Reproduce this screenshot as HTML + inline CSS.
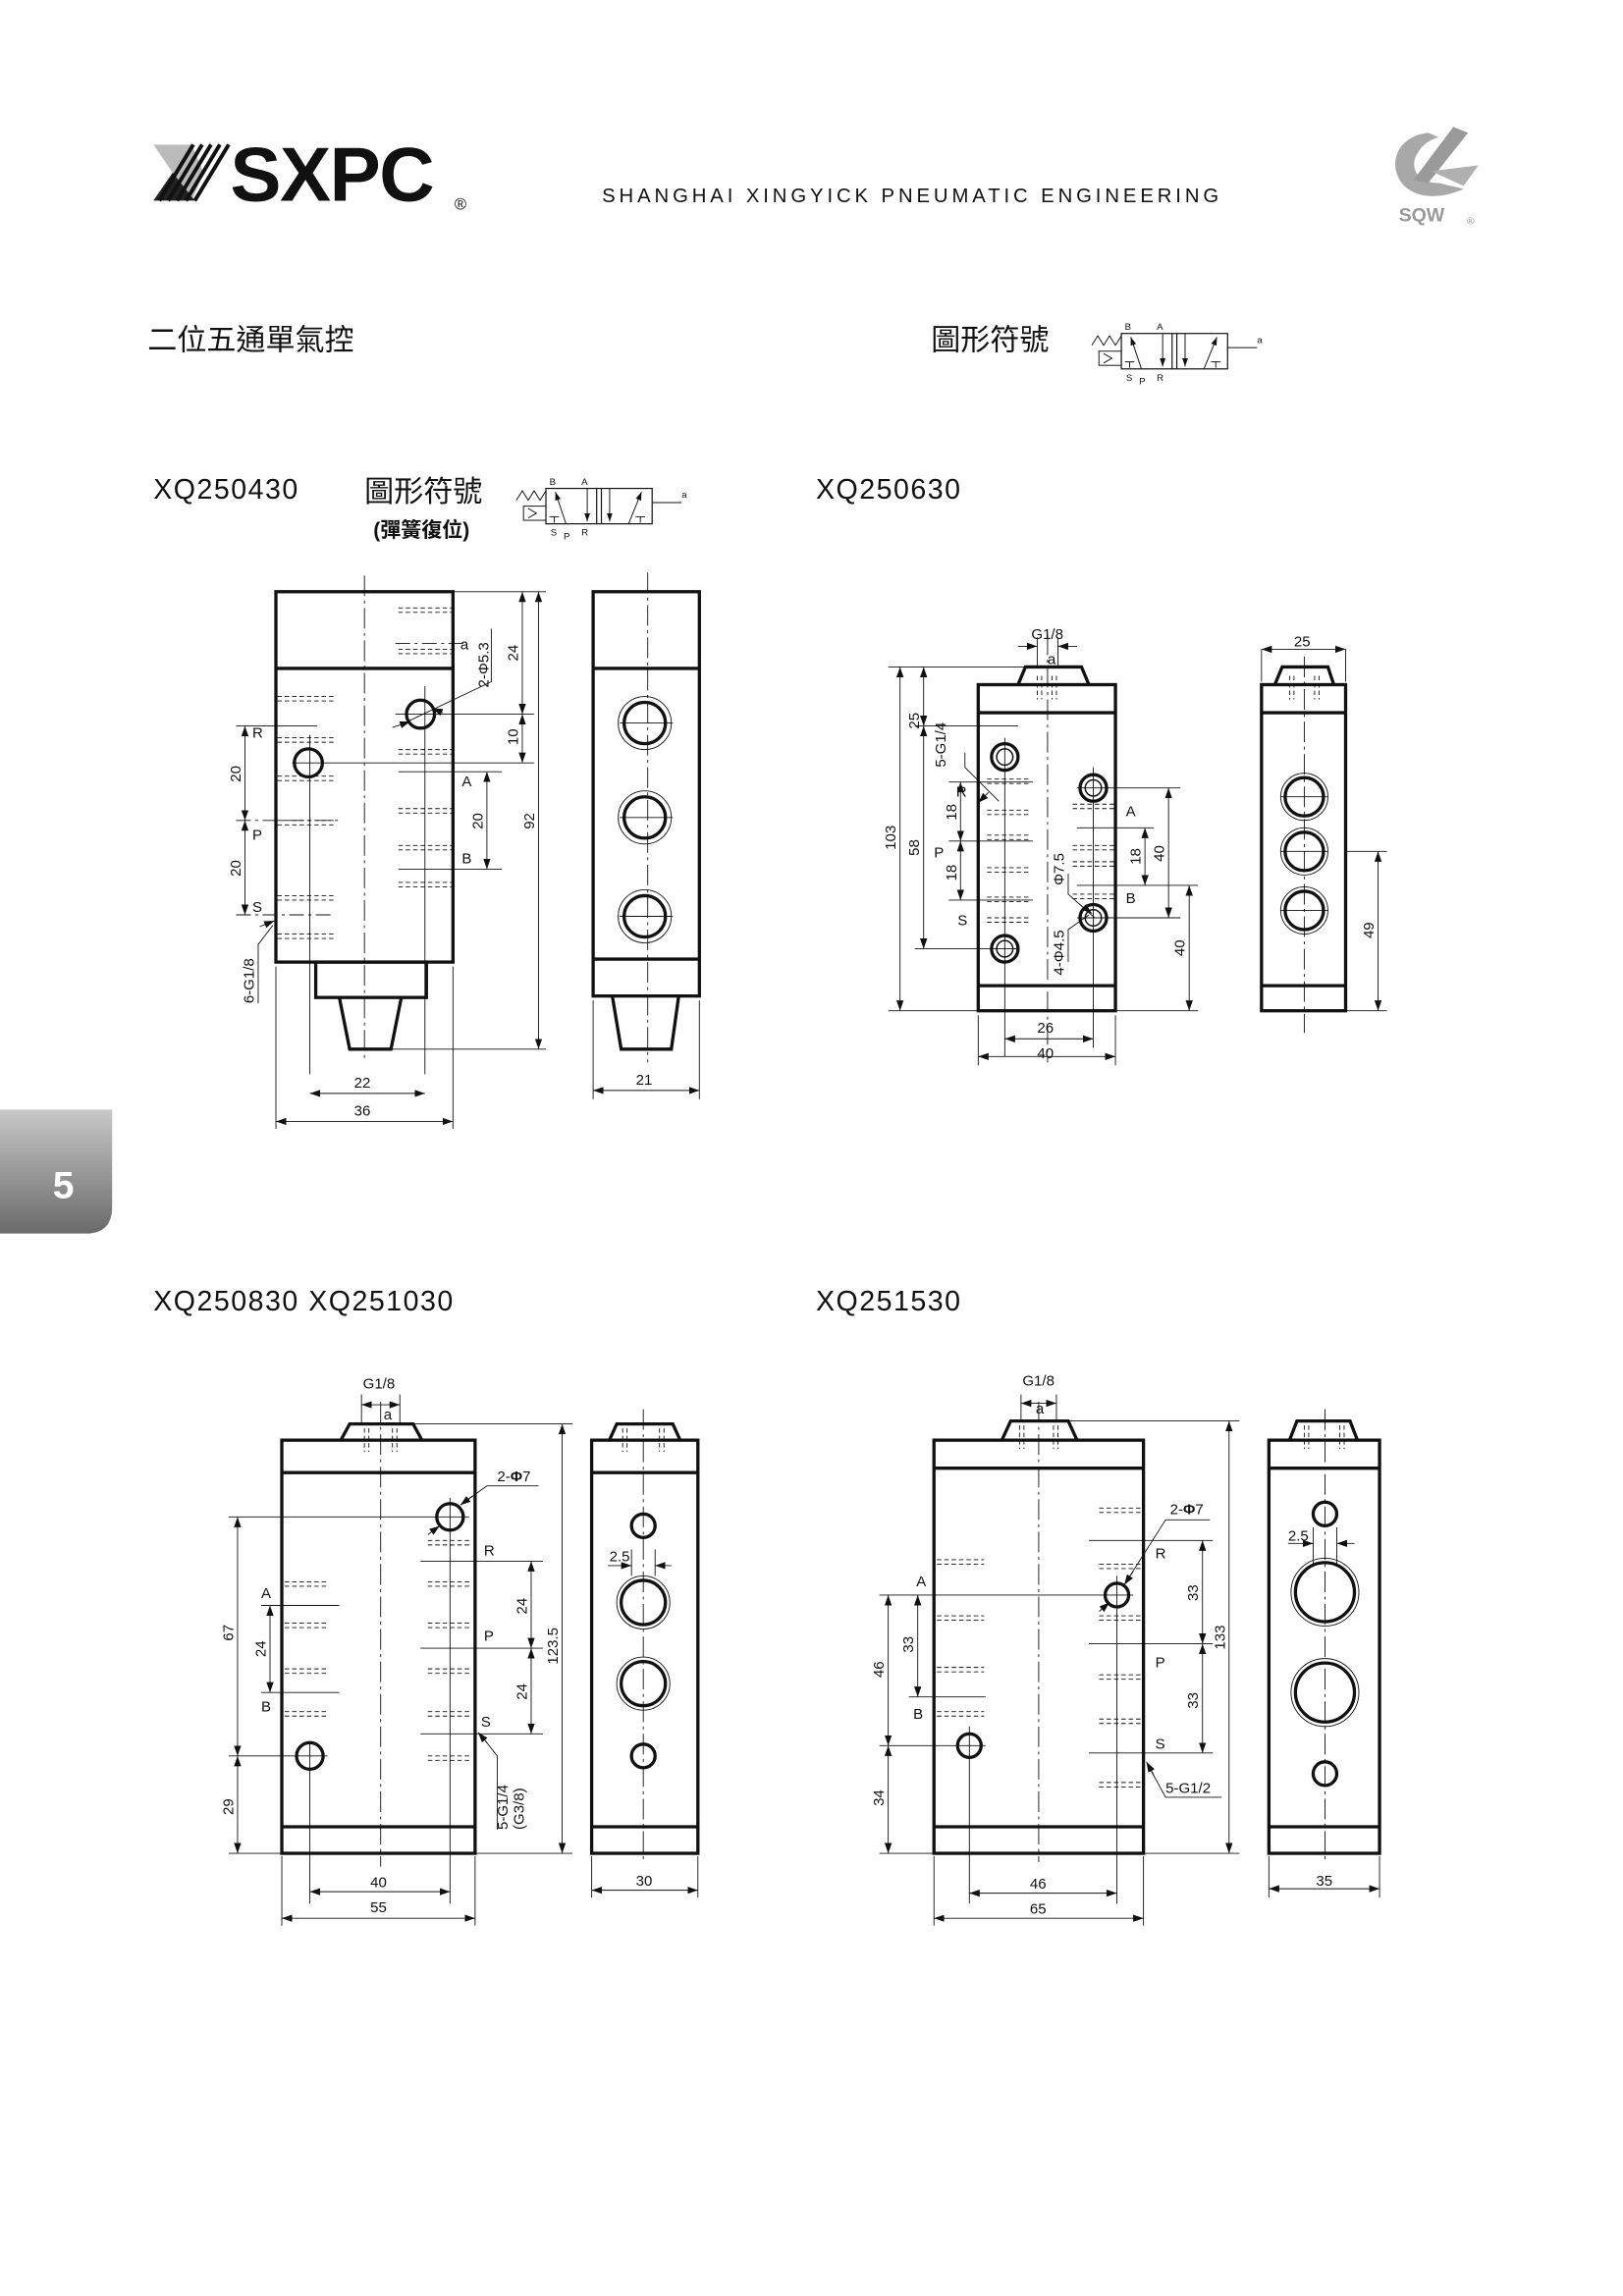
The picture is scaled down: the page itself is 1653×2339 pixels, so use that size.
<!DOCTYPE html>
<html><head><meta charset="utf-8"><style>
html,body{margin:0;padding:0;background:#fff}
svg{display:block}
text{font-family:"Liberation Sans","Noto Sans CJK TC",sans-serif;fill:#111}
</style></head><body>
<svg width="1653" height="2339" viewBox="0 0 1100 1556" preserveAspectRatio="none" xmlns="http://www.w3.org/2000/svg">
<defs>
<marker id="ar" viewBox="0 0 10 10" refX="10" refY="5" markerWidth="7" markerHeight="7" orient="auto-start-reverse" markerUnits="userSpaceOnUse"><path d="M0,1.5 L10,5 L0,8.5 z" fill="#111"/></marker>
<linearGradient id="tab" x1="0" y1="0" x2="0" y2="1"><stop offset="0" stop-color="#c8c8c8"/><stop offset="1" stop-color="#6a6a6a"/></linearGradient>
<g id="sym">
<rect x="25" y="10" width="90" height="30" fill="none" stroke="#111" stroke-width="1"/>
<line x1="68" y1="10" x2="68" y2="40" stroke="#111" stroke-width="1"/>
<line x1="72" y1="10" x2="72" y2="40" stroke="#111" stroke-width="1"/>
<polyline points="0,20 5,12 10,20 15,12 20,20 25,12" fill="none" stroke="#111" stroke-width="0.8"/>
<rect x="6" y="25" width="19" height="12" fill="none" stroke="#111" stroke-width="0.8"/>
<polyline points="10,27 17,31 10,35" fill="none" stroke="#111" stroke-width="0.8"/>
<line x1="42" y1="40" x2="33" y2="13" stroke="#111" stroke-width="0.8" marker-end="url(#ar)"/>
<line x1="60" y1="10" x2="60" y2="38" stroke="#111" stroke-width="0.8" marker-end="url(#ar)"/>
<line x1="79" y1="10" x2="79" y2="38" stroke="#111" stroke-width="0.8" marker-end="url(#ar)"/>
<line x1="95" y1="40" x2="106" y2="13" stroke="#111" stroke-width="0.8" marker-end="url(#ar)"/>
<path d="M28,34 h8 M32,34 v5 M101,34 h8 M105,34 v5" stroke="#111" stroke-width="0.8"/>
<line x1="115" y1="22" x2="140" y2="22" stroke="#111" stroke-width="0.8"/>
<text x="28" y="7" font-size="8">B</text><text x="55" y="7" font-size="8">A</text>
<text x="29" y="50" font-size="8">S</text><text x="40" y="53" font-size="8">P</text><text x="55" y="50" font-size="8">R</text>
<text x="140" y="18" font-size="8">a</text>
</g>
</defs>

<g>
<polygon points="104,98 130,98 138,117 130,136 104,136 117,117" fill="#bbb"/>
<polygon points="117,117 104,136 132,136" fill="#222"/>
<g stroke="#111" stroke-width="2.6"><line x1="108" y1="136" x2="131" y2="98"/><line x1="114" y1="136" x2="137" y2="98"/><line x1="120" y1="136" x2="143" y2="98"/><line x1="126" y1="136" x2="149" y2="98"/><line x1="132" y1="136" x2="155" y2="98"/></g>
<text x="156" y="136" font-size="52" font-weight="bold" style="letter-spacing:-1px">SXPC</text>
<text x="308" y="142" font-size="11">®</text>
<text x="408" y="137" font-size="13.5" style="letter-spacing:2.6px">SHANGHAI XINGYICK PNEUMATIC ENGINEERING</text>
<path d="M968,90 C948,92 940,110 950,124 C958,134 975,136 992,128 L975,124 C960,124 954,112 962,102 C966,96 972,94 975,93 Z" fill="#a8a8a8"/>
<path d="M985,86 L958,122 L968,124 L995,90 Z" fill="#9a9a9a"/>
<path d="M970,116 L1002,112 L992,126 Z" fill="#b0b0b0"/>
<text x="948" y="150" font-size="13" font-weight="bold" style="fill:#999">SQW</text>
<text x="994" y="152" font-size="7" style="fill:#999">®</text>
</g>

<path d="M0,752 H76 V818 Q76,836 58,836 H0 Z" fill="url(#tab)"/>
<text x="43" y="812" font-size="26" font-weight="bold" text-anchor="middle" style="fill:#fff">5</text>

<text x="100" y="237" font-size="20">二位五通單氣控</text>
<text x="631" y="237" font-size="20">圖形符號</text>
<use href="#sym" transform="translate(740,218) scale(0.8)"/>
<text x="104" y="338" font-size="19" style="letter-spacing:1px">XQ250430</text>
<text x="247" y="340" font-size="20">圖形符號</text>
<text x="253" y="364" font-size="14" font-weight="bold">(彈簧復位)</text>
<use href="#sym" transform="translate(350,323) scale(0.8)"/>
<text x="553" y="338" font-size="19" style="letter-spacing:1px">XQ250630</text>
<text x="104" y="888" font-size="19" style="letter-spacing:1px">XQ250830  XQ251030</text>
<text x="553" y="888" font-size="19" style="letter-spacing:1px">XQ251530</text>

<g fill="none" stroke="#111">
<g stroke-width="2.2">
<rect x="187" y="401" width="120" height="251"/>
<line x1="187" y1="453" x2="307" y2="453"/>
<rect x="214" y="652" width="75" height="24"/>
<polyline points="230,676 237,711 265,711 272,676"/>
<circle cx="285" cy="484" r="9.5"/><circle cx="209" cy="517" r="9.5"/>
<rect x="402" y="401" width="72" height="274"/>
<line x1="402" y1="453" x2="474" y2="453"/><line x1="402" y1="650" x2="474" y2="650"/>
<polyline points="415,675 421,711 455,711 460,675"/>
<circle cx="437" cy="490" r="14"/><circle cx="437" cy="554" r="14"/><circle cx="437" cy="621" r="14"/>
</g>
<g stroke-width="0.6">
<circle cx="437" cy="490" r="18"/><circle cx="437" cy="554" r="18"/><circle cx="437" cy="621" r="18"/>
<line x1="247" y1="390" x2="247" y2="720" stroke-dasharray="14,3,2,3"/>
<line x1="439" y1="388" x2="439" y2="720" stroke-dasharray="14,3,2,3"/>
<line x1="420" y1="490" x2="456" y2="490"/><line x1="420" y1="554" x2="456" y2="554"/><line x1="420" y1="621" x2="456" y2="621"/>
<line x1="210" y1="728" x2="210" y2="498"/><line x1="288" y1="728" x2="288" y2="465"/>
<line x1="187" y1="655" x2="187" y2="765"/><line x1="307" y1="655" x2="307" y2="765"/>
<line x1="210" y1="741" x2="288" y2="741" marker-start="url(#ar)" marker-end="url(#ar)"/>
<line x1="187" y1="760" x2="307" y2="760" marker-start="url(#ar)" marker-end="url(#ar)"/>
<line x1="402" y1="678" x2="402" y2="745"/><line x1="474" y1="678" x2="474" y2="745"/>
<line x1="402" y1="739" x2="474" y2="739" marker-start="url(#ar)" marker-end="url(#ar)"/>
<line x1="307" y1="401" x2="370" y2="401"/><line x1="268" y1="484" x2="362" y2="484"/><line x1="198" y1="517" x2="362" y2="517"/><line x1="265" y1="711" x2="370" y2="711"/>
<line x1="354" y1="401" x2="354" y2="484" marker-start="url(#ar)" marker-end="url(#ar)"/>
<line x1="354" y1="484" x2="354" y2="517" marker-start="url(#ar)" marker-end="url(#ar)"/>
<line x1="365" y1="401" x2="365" y2="711" marker-start="url(#ar)" marker-end="url(#ar)"/>
<line x1="270" y1="523" x2="340" y2="523"/><line x1="270" y1="589" x2="340" y2="589"/>
<line x1="330" y1="523" x2="330" y2="589" marker-start="url(#ar)" marker-end="url(#ar)"/>
<line x1="160" y1="492" x2="215" y2="492"/><line x1="160" y1="556" x2="230" y2="556" stroke-dasharray="10,3,2,3"/><line x1="160" y1="620" x2="225" y2="620" stroke-dasharray="10,3,2,3"/>
<line x1="166" y1="492" x2="166" y2="556" marker-start="url(#ar)" marker-end="url(#ar)"/>
<line x1="166" y1="556" x2="166" y2="620" marker-start="url(#ar)" marker-end="url(#ar)"/>
<line x1="268" y1="436" x2="315" y2="436" stroke-dasharray="10,3,2,3"/>
<polyline points="175,680 175,640 185,627" /><line x1="176" y1="628" x2="186" y2="624" marker-end="url(#ar)"/>
<polyline points="333,426 333,462 272,491" /><line x1="300" y1="483" x2="293" y2="480" marker-end="url(#ar)"/>
<line x1="266" y1="493" x2="278" y2="489" marker-end="url(#ar)"/>
</g>
<g stroke-width="0.6" stroke-dasharray="3,2">
<path d="M270,412h37M270,415h37M270,440h37M270,443h37M188,472h40M188,475h40M188,500h40M188,503h40M188,526h40M188,529h40M188,556h40M188,559h40M188,607h40M188,610h40M188,633h40M188,636h40M270,508h37M270,511h37M270,548h37M270,551h37M270,573h37M270,576h37M270,598h37M270,601h37"/>
</g>
</g>
<g font-size="10">
<text x="312" y="440">a</text><text x="171" y="500">R</text><text x="171" y="569">P</text><text x="171" y="618">S</text>
<text x="313" y="533">A</text><text x="313" y="585">B</text>
<text x="240" y="737">22</text><text x="240" y="756">36</text><text x="431" y="735">21</text>
<text transform="translate(351,448) rotate(-90)">24</text>
<text transform="translate(351,505) rotate(-90)">10</text>
<text transform="translate(362,562) rotate(-90)">92</text>
<text transform="translate(327,562) rotate(-90)">20</text>
<text transform="translate(163,530) rotate(-90)">20</text>
<text transform="translate(163,594) rotate(-90)">20</text>
<text transform="translate(331,466) rotate(-90)">2-Φ5.3</text>
<text transform="translate(172,680) rotate(-90)">6-G1/8</text>
</g>

<g fill="none" stroke="#111">
<g stroke-width="2.2">
<rect x="663" y="464" width="93" height="221"/>
<line x1="663" y1="483" x2="756" y2="483"/><line x1="663" y1="668" x2="756" y2="668"/>
<polyline points="690,464 695,452 733,452 738,464"/>
<circle cx="681" cy="513" r="9"/><circle cx="741" cy="534" r="9"/><circle cx="741" cy="622" r="9"/><circle cx="681" cy="643" r="9"/>
<rect x="855" y="464" width="57" height="221"/>
<line x1="855" y1="483" x2="912" y2="483"/><line x1="855" y1="668" x2="912" y2="668"/>
<polyline points="864,464 869,452 900,452 904,464"/>
<circle cx="884" cy="540" r="13"/><circle cx="884" cy="577" r="13"/><circle cx="884" cy="617" r="13"/>
</g>
<g stroke-width="1">
<circle cx="681" cy="513" r="5.5"/><circle cx="741" cy="534" r="5.5"/><circle cx="741" cy="622" r="5.5"/><circle cx="681" cy="643" r="5.5"/>
</g>
<g stroke-width="0.6">
<circle cx="884" cy="540" r="16"/><circle cx="884" cy="577" r="16"/><circle cx="884" cy="617" r="16"/>
<line x1="710" y1="430" x2="710" y2="720" stroke-dasharray="14,3,2,3"/>
<line x1="884" y1="445" x2="884" y2="700" stroke-dasharray="14,3,2,3"/>
<line x1="868" y1="540" x2="900" y2="540"/><line x1="868" y1="577" x2="900" y2="577"/><line x1="868" y1="617" x2="900" y2="617"/>
<line x1="681" y1="500" x2="681" y2="716"/><line x1="741" y1="520" x2="741" y2="710"/>
<line x1="663" y1="688" x2="663" y2="722"/><line x1="756" y1="688" x2="756" y2="722"/>
<line x1="681" y1="704" x2="741" y2="704" marker-start="url(#ar)" marker-end="url(#ar)"/>
<line x1="663" y1="716" x2="756" y2="716" marker-start="url(#ar)" marker-end="url(#ar)"/>
<line x1="602" y1="452" x2="695" y2="452"/><line x1="602" y1="685" x2="663" y2="685"/>
<line x1="610" y1="452" x2="610" y2="685" marker-start="url(#ar)" marker-end="url(#ar)"/>
<line x1="620" y1="492" x2="690" y2="492"/><line x1="620" y1="643" x2="690" y2="643"/>
<line x1="626" y1="452" x2="626" y2="492" marker-start="url(#ar)" marker-end="url(#ar)"/>
<line x1="626" y1="492" x2="626" y2="643" marker-start="url(#ar)" marker-end="url(#ar)"/>
<line x1="643" y1="530" x2="700" y2="530"/><line x1="643" y1="570" x2="700" y2="570"/><line x1="643" y1="610" x2="700" y2="610"/>
<line x1="651" y1="530" x2="651" y2="570" marker-start="url(#ar)" marker-end="url(#ar)"/>
<line x1="651" y1="570" x2="651" y2="610" marker-start="url(#ar)" marker-end="url(#ar)"/>
<line x1="730" y1="534" x2="800" y2="534"/><line x1="730" y1="561" x2="782" y2="561"/><line x1="730" y1="600" x2="812" y2="600"/><line x1="730" y1="622" x2="800" y2="622"/><line x1="756" y1="685" x2="812" y2="685"/>
<line x1="776" y1="561" x2="776" y2="600" marker-start="url(#ar)" marker-end="url(#ar)"/>
<line x1="792" y1="534" x2="792" y2="622" marker-start="url(#ar)" marker-end="url(#ar)"/>
<line x1="806" y1="600" x2="806" y2="685" marker-start="url(#ar)" marker-end="url(#ar)"/>
<line x1="912" y1="577" x2="940" y2="577"/><line x1="912" y1="685" x2="940" y2="685"/>
<line x1="934" y1="577" x2="934" y2="685" marker-start="url(#ar)" marker-end="url(#ar)"/>
<line x1="855" y1="440" x2="855" y2="462"/><line x1="912" y1="440" x2="912" y2="462"/>
<line x1="855" y1="440" x2="912" y2="440" marker-start="url(#ar)" marker-end="url(#ar)"/>
<line x1="703" y1="432" x2="703" y2="452"/><line x1="717" y1="432" x2="717" y2="452"/>
<line x1="690" y1="438" x2="703" y2="438" marker-end="url(#ar)"/><line x1="730" y1="438" x2="717" y2="438" marker-end="url(#ar)"/>
<polyline points="654,510 654,520 677,543" /><line x1="670" y1="537" x2="663" y2="544" marker-end="url(#ar)"/>
<polyline points="724,592 724,606 742,622"/><line x1="735" y1="615" x2="740" y2="619" marker-end="url(#ar)"/>
<polyline points="724,652 724,630 738,620"/>
</g>
<g stroke-width="0.6" stroke-dasharray="3,2">
<path d="M669,528h29M669,531h29M669,549h29M669,552h29M669,566h29M669,569h29M669,588h29M669,591h29M669,608h29M669,611h29M669,622h29M669,625h29M727,545h29M727,548h29M727,573h29M727,576h29M727,584h29M727,587h29M727,606h29M727,609h29"/>
<path d="M703,458v16M706,458v16M713,458v16M716,458v16M874,458v16M877,458v16M891,458v16M894,458v16"/>
</g>
</g>
<g font-size="10">
<text x="699" y="433">G1/8</text><text x="710" y="450">a</text><text x="877" y="438">25</text>
<text x="648" y="540">R</text><text x="633" y="581">P</text><text x="649" y="627">S</text>
<text x="763" y="553">A</text><text x="763" y="612">B</text>
<text x="703" y="700">26</text><text x="703" y="717">40</text>
<text transform="translate(607,576) rotate(-90)">103</text>
<text transform="translate(623,494) rotate(-90)">25</text>
<text transform="translate(623,580) rotate(-90)">58</text>
<text transform="translate(648,556) rotate(-90)">18</text>
<text transform="translate(648,597) rotate(-90)">18</text>
<text transform="translate(773,586) rotate(-90)">18</text>
<text transform="translate(789,584) rotate(-90)">40</text>
<text transform="translate(803,648) rotate(-90)">40</text>
<text transform="translate(931,636) rotate(-90)">49</text>
<text transform="translate(641,520) rotate(-90)">5-G1/4</text>
<text transform="translate(721,600) rotate(-90)">Φ7.5</text>
<text transform="translate(721,661) rotate(-90)">4-Φ4.5</text>
</g>

<g fill="none" stroke="#111">
<g stroke-width="2.2">
<rect x="191" y="976" width="131" height="280"/>
<line x1="191" y1="998" x2="322" y2="998"/><line x1="191" y1="1238" x2="322" y2="1238"/>
<polyline points="231,976 237,965 280,965 286,976"/>
<circle cx="305" cy="1028" r="9"/><circle cx="210" cy="1190" r="9"/>
<rect x="401" y="976" width="72" height="280"/>
<line x1="401" y1="998" x2="473" y2="998"/><line x1="401" y1="1238" x2="473" y2="1238"/>
<polyline points="413,976 418,965 456,965 461,976"/>
<circle cx="436" cy="1034" r="8"/><circle cx="436" cy="1086" r="15"/><circle cx="436" cy="1141" r="15"/><circle cx="436" cy="1190" r="8"/>
</g>
<g stroke-width="0.6">
<circle cx="436" cy="1086" r="18"/><circle cx="436" cy="1141" r="18"/>
<line x1="258" y1="950" x2="258" y2="1265" stroke-dasharray="14,3,2,3"/>
<line x1="436" y1="955" x2="436" y2="1262" stroke-dasharray="14,3,2,3"/>
<line x1="210" y1="1180" x2="210" y2="1290"/><line x1="305" y1="1015" x2="305" y2="1290"/>
<line x1="191" y1="1258" x2="191" y2="1305"/><line x1="322" y1="1258" x2="322" y2="1305"/>
<line x1="210" y1="1282" x2="305" y2="1282" marker-start="url(#ar)" marker-end="url(#ar)"/>
<line x1="191" y1="1300" x2="322" y2="1300" marker-start="url(#ar)" marker-end="url(#ar)"/>
<line x1="401" y1="1258" x2="401" y2="1286"/><line x1="473" y1="1258" x2="473" y2="1286"/>
<line x1="401" y1="1281" x2="473" y2="1281" marker-start="url(#ar)" marker-end="url(#ar)"/>
<line x1="155" y1="1028" x2="318" y2="1028"/><line x1="155" y1="1190" x2="222" y2="1190"/><line x1="155" y1="1256" x2="191" y2="1256"/>
<line x1="161" y1="1028" x2="161" y2="1190" marker-start="url(#ar)" marker-end="url(#ar)"/>
<line x1="161" y1="1190" x2="161" y2="1256" marker-start="url(#ar)" marker-end="url(#ar)"/>
<line x1="177" y1="1088" x2="230" y2="1088"/><line x1="177" y1="1147" x2="230" y2="1147"/>
<line x1="183" y1="1088" x2="183" y2="1147" marker-start="url(#ar)" marker-end="url(#ar)"/>
<line x1="285" y1="1058" x2="368" y2="1058"/><line x1="285" y1="1117" x2="368" y2="1117"/><line x1="285" y1="1175" x2="368" y2="1175"/>
<line x1="360" y1="1058" x2="360" y2="1117" marker-start="url(#ar)" marker-end="url(#ar)"/>
<line x1="360" y1="1117" x2="360" y2="1175" marker-start="url(#ar)" marker-end="url(#ar)"/>
<line x1="280" y1="965" x2="388" y2="965"/><line x1="322" y1="1256" x2="388" y2="1256"/>
<line x1="381" y1="965" x2="381" y2="1256" marker-start="url(#ar)" marker-end="url(#ar)"/>
<line x1="245" y1="945" x2="245" y2="965"/><line x1="271" y1="945" x2="271" y2="965"/>
<line x1="245" y1="952" x2="271" y2="952" marker-start="url(#ar)" marker-end="url(#ar)"/>
<polyline points="365,1007 330,1007 312,1020"/><line x1="320" y1="1014" x2="312" y2="1020" marker-end="url(#ar)"/>
<line x1="290" y1="1040" x2="298" y2="1034" marker-end="url(#ar)"/>
<line x1="412" y1="1061" x2="428" y2="1061" marker-end="url(#ar)"/><line x1="455" y1="1061" x2="444" y2="1061" marker-end="url(#ar)"/>
<line x1="428" y1="1050" x2="428" y2="1068"/><line x1="444" y1="1050" x2="444" y2="1068"/>
<polyline points="337,1240 337,1190 326,1176"/><line x1="330" y1="1181" x2="324" y2="1174" marker-end="url(#ar)"/>
</g>
<g stroke-width="0.6" stroke-dasharray="3,2">
<path d="M193,1072h30M193,1075h30M193,1100h30M193,1103h30M193,1131h30M193,1134h30M193,1160h30M193,1163h30M290,1044h30M290,1047h30M290,1072h30M290,1075h30M290,1100h30M290,1103h30M290,1131h30M290,1134h30M290,1160h30M290,1163h30M290,1190h30M290,1193h30"/>
<path d="M247,968v16M250,968v16M266,968v16M269,968v16M422,968v16M425,968v16M447,968v16M450,968v16"/>
</g>
</g>
<g font-size="10">
<text x="246" y="941">G1/8</text><text x="260" y="962">a</text>
<text x="337" y="1004">2-<tspan font-weight="bold">Φ</tspan>7</text>
<text x="413" y="1058">2.5</text>
<text x="328" y="1054">R</text><text x="328" y="1112">P</text><text x="326" y="1170">S</text>
<text x="177" y="1083">A</text><text x="177" y="1160">B</text>
<text x="251" y="1279">40</text><text x="251" y="1296">55</text><text x="431" y="1278">30</text>
<text transform="translate(158,1112) rotate(-90)">67</text>
<text transform="translate(158,1230) rotate(-90)">29</text>
<text transform="translate(180,1123) rotate(-90)">24</text>
<text transform="translate(357,1094) rotate(-90)">24</text>
<text transform="translate(357,1152) rotate(-90)">24</text>
<text transform="translate(378,1128) rotate(-90)">123.5</text>
<text transform="translate(344,1240) rotate(-90)">5-G1/4</text>
<text transform="translate(355,1240) rotate(-90)">(G3/8)</text>
</g>

<g fill="none" stroke="#111">
<g stroke-width="2.2">
<rect x="633" y="976" width="142" height="280"/>
<line x1="633" y1="995" x2="775" y2="995"/><line x1="633" y1="1238" x2="775" y2="1238"/>
<polyline points="679,976 685,963 724,963 730,976"/>
<circle cx="757" cy="1081" r="8"/><circle cx="657" cy="1183" r="8"/>
<rect x="860" y="976" width="75" height="280"/>
<line x1="860" y1="995" x2="935" y2="995"/><line x1="860" y1="1238" x2="935" y2="1238"/>
<polyline points="874,976 879,963 915,963 920,976"/>
<circle cx="898" cy="1026" r="8"/><circle cx="898" cy="1079" r="20"/><circle cx="898" cy="1147" r="20"/><circle cx="898" cy="1202" r="8"/>
</g>
<g stroke-width="0.6">
<circle cx="898" cy="1079" r="23"/><circle cx="898" cy="1147" r="23"/>
<line x1="704" y1="950" x2="704" y2="1262" stroke-dasharray="14,3,2,3"/>
<line x1="898" y1="955" x2="898" y2="1262" stroke-dasharray="14,3,2,3"/>
<line x1="657" y1="1170" x2="657" y2="1290"/><line x1="757" y1="1068" x2="757" y2="1290"/>
<line x1="633" y1="1258" x2="633" y2="1305"/><line x1="775" y1="1258" x2="775" y2="1305"/>
<line x1="657" y1="1283" x2="757" y2="1283" marker-start="url(#ar)" marker-end="url(#ar)"/>
<line x1="633" y1="1300" x2="775" y2="1300" marker-start="url(#ar)" marker-end="url(#ar)"/>
<line x1="860" y1="1258" x2="860" y2="1286"/><line x1="935" y1="1258" x2="935" y2="1286"/>
<line x1="860" y1="1280" x2="935" y2="1280" marker-start="url(#ar)" marker-end="url(#ar)"/>
<line x1="596" y1="1081" x2="768" y2="1081"/><line x1="596" y1="1183" x2="668" y2="1183"/><line x1="596" y1="1256" x2="633" y2="1256"/>
<line x1="602" y1="1081" x2="602" y2="1183" marker-start="url(#ar)" marker-end="url(#ar)"/>
<line x1="602" y1="1183" x2="602" y2="1256" marker-start="url(#ar)" marker-end="url(#ar)"/>
<line x1="616" y1="1150" x2="668" y2="1150"/>
<line x1="622" y1="1081" x2="622" y2="1150" marker-start="url(#ar)" marker-end="url(#ar)"/>
<line x1="738" y1="1044" x2="822" y2="1044"/><line x1="738" y1="1114" x2="822" y2="1114"/><line x1="738" y1="1188" x2="822" y2="1188"/>
<line x1="815" y1="1044" x2="815" y2="1114" marker-start="url(#ar)" marker-end="url(#ar)"/>
<line x1="815" y1="1114" x2="815" y2="1188" marker-start="url(#ar)" marker-end="url(#ar)"/>
<line x1="724" y1="963" x2="840" y2="963"/><line x1="775" y1="1256" x2="840" y2="1256"/>
<line x1="833" y1="963" x2="833" y2="1256" marker-start="url(#ar)" marker-end="url(#ar)"/>
<line x1="692" y1="945" x2="692" y2="963"/><line x1="716" y1="945" x2="716" y2="963"/>
<line x1="692" y1="951" x2="716" y2="951" marker-start="url(#ar)" marker-end="url(#ar)"/>
<polyline points="820,1030 790,1030 762,1074"/><line x1="768" y1="1065" x2="762" y2="1074" marker-end="url(#ar)"/>
<line x1="745" y1="1092" x2="752" y2="1086" marker-end="url(#ar)"/>
<line x1="873" y1="1046" x2="890" y2="1046" marker-end="url(#ar)"/><line x1="918" y1="1046" x2="906" y2="1046" marker-end="url(#ar)"/>
<line x1="890" y1="1035" x2="890" y2="1060"/><line x1="906" y1="1035" x2="906" y2="1060"/>
<polyline points="828,1218 790,1218 778,1196"/><line x1="782" y1="1203" x2="777" y2="1194" marker-end="url(#ar)"/>
</g>
<g stroke-width="0.6" stroke-dasharray="3,2">
<path d="M635,1057h32M635,1060h32M635,1095h32M635,1098h32M635,1130h32M635,1133h32M635,1160h32M635,1163h32M745,1022h30M745,1025h30M745,1060h30M745,1063h30M745,1095h30M745,1098h30M745,1135h30M745,1138h30M745,1165h30M745,1168h30M745,1208h30M745,1211h30"/>
<path d="M691,966v16M694,966v16M714,966v16M717,966v16M884,966v16M887,966v16M908,966v16M911,966v16"/>
</g>
</g>
<g font-size="10">
<text x="693" y="939">G1/8</text><text x="702" y="958">a</text>
<text x="793" y="1026">2-<tspan font-weight="bold">Φ</tspan>7</text>
<text x="873" y="1044">2.5</text>
<text x="783" y="1056">R</text><text x="783" y="1130">P</text><text x="783" y="1185">S</text>
<text x="621" y="1075">A</text><text x="619" y="1165">B</text>
<text x="790" y="1215">5-G1/2</text>
<text x="698" y="1280">46</text><text x="698" y="1297">65</text><text x="892" y="1278">35</text>
<text transform="translate(599,1137) rotate(-90)">46</text>
<text transform="translate(599,1224) rotate(-90)">34</text>
<text transform="translate(619,1120) rotate(-90)">33</text>
<text transform="translate(812,1085) rotate(-90)">33</text>
<text transform="translate(812,1158) rotate(-90)">33</text>
<text transform="translate(830,1118) rotate(-90)">133</text>
</g>
</svg>
</body></html>
